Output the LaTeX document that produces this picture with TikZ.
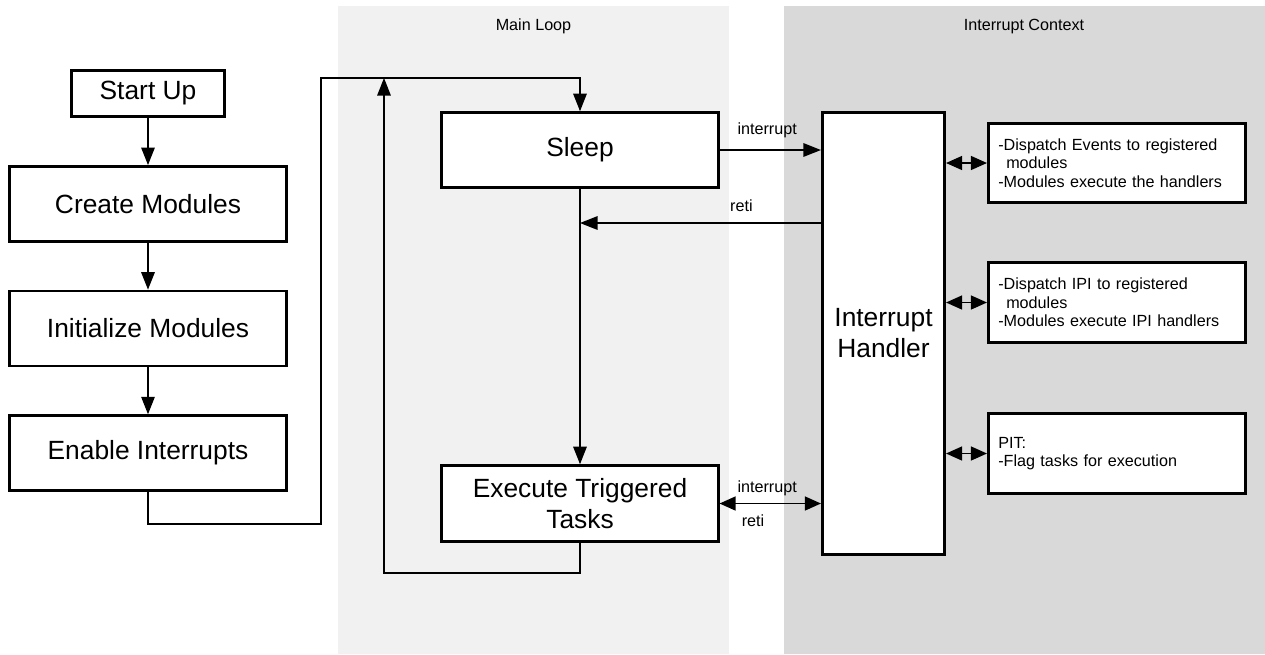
\documentclass[tikz,border=0pt]{standalone}
\usepackage{fontspec}
\setmainfont{Liberation Sans}
\usetikzlibrary{arrows.meta, positioning}
\definecolor{LoopGray}{RGB}{241, 241, 241}
\definecolor{IrqGray}{RGB}{217, 217, 217}
\newcommand{\boxfont}{\fontsize{15}{17.6}\selectfont}
\newcommand{\ctxfont}{\fontsize{9.2}{10.6}\selectfont}

\begin{document}
\begin{tikzpicture}[
          x=0.02cm, y=-0.02cm,
          flow/.style={
            draw,
            line width=1.5pt,
            fill=white,
            align=center,
            font=\boxfont,
            minimum width=5.53cm,
            minimum height=1.5cm
          },
          ctx/.style={
            draw,
            line width=1.5pt,
            fill=white,
            align=left,
            font=\ctxfont,
            text width=4.75cm,
            inner xsep=0.2cm,
            minimum height=1.59cm
          },
          arrow/.style={-{Triangle[length=0.35cm, width=0.27cm]}, line width=0.75pt},
          darrow/.style={{Triangle[length=0.32cm, width=0.28cm]}-{Triangle[length=0.32cm, width=0.28cm]}, line width=0.75pt},
          lbl/.style={font=\ctxfont, anchor=base, inner sep=0pt}
        ]
        \useasboundingbox (0,0) rectangle (1265,654);
        % context bands
        \fill[LoopGray] (338,6) rectangle (729,654);
        \fill[IrqGray] (784,6) rectangle (1265,654);
        \node[lbl] (looptitle) at (533.5,30) {Main Loop};
        \node[lbl] (irqtitle) at (1024,30) {Interrupt Context};

        % start-up sequence
        \node[flow, minimum width=3.07cm, minimum height=0.93cm] (startup) at (148,93.5) {Start Up};
        \node[flow, below=0.94cm of startup] (create) {Create Modules};
        \node[flow, below=0.94cm of create] (init) {Initialize Modules};
        \node[flow, below=0.94cm of init] (enable) {Enable Interrupts};
        \draw[arrow] (startup) -- (create);
        \draw[arrow] (create) -- (init);
        \draw[arrow] (init) -- (enable);

        % main loop
        \node[flow] (sleep) at (580,150) {Sleep};
        \node[flow, minimum height=1.52cm] (exec) at (580,503.5) {Execute Triggered\\Tasks};
        \coordinate (enret) at (321,524);
        \coordinate (enup) at (321,78);
        \coordinate (loopbot) at (384,573);
        \coordinate (looptop) at (384,78);
        \coordinate (retsleep) at (580,223);
        \draw[arrow] (enable.south) |- (enret) -- (enup) -| (sleep.north);
        \draw[arrow] (sleep) -- (exec);
        \draw[arrow] (exec.south) |- (loopbot) -- (looptop);

        % interrupt side
        \node[flow, minimum width=2.45cm, minimum height=8.85cm] (handler) at (883.5,333.5) {Interrupt\\Handler};
        \node[ctx] (events) at (1117,163) {-Dispatch Events to registered\\\hspace*{0.16cm}modules\\-Modules execute the handlers};
        \node[ctx] (ipi) at (1117,302.5) {-Dispatch IPI to registered\\\hspace*{0.16cm}modules\\-Modules execute IPI handlers};
        \node[ctx] (pit) at (1117,453.5) {PIT:\\-Flag tasks for execution};

        \draw[arrow] (sleep.east) -- (sleep.east -| handler.west)
          node[lbl, pos=0.47, yshift=0.32cm] {interrupt};
        \draw[arrow] (handler.west |- retsleep) -- (retsleep)
          node[lbl, pos=0.33, yshift=0.24cm] {reti};
        \draw[darrow] (exec.east) -- (exec.east -| handler.west)
          node[lbl, pos=0.47, yshift=0.22cm] {interrupt}
          node[lbl, pos=0.33, yshift=-0.46cm] {reti};
        \draw[darrow] (handler.east |- events.west) -- (events.west);
        \draw[darrow] (handler.east |- ipi.west) -- (ipi.west);
        \draw[darrow] (handler.east |- pit.west) -- (pit.west);
      \end{tikzpicture}
\end{document}
